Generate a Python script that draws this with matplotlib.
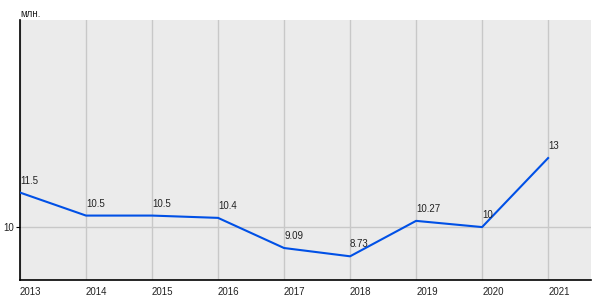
import matplotlib
matplotlib.use("Agg")
import matplotlib.pyplot as plt

plt.rcParams["font.family"] = ["Liberation Sans", "DejaVu Sans"]

years = [2013, 2014, 2015, 2016, 2017, 2018, 2019, 2020, 2021]
values = [11.5, 10.5, 10.5, 10.4, 9.09, 8.73, 10.27, 10.0, 13.0]
labels = ["11.5", "10.5", "10.5", "10.4", "9.09", "8.73", "10.27", "10", "13"]
yticks = [10]
unit = "млн."

fig = plt.figure(figsize=(6, 3), dpi=100)
ax = fig.add_axes([20/600, 20/300, 571/600, 260/300])
ax.set_facecolor("#EBEBEB")
ax.plot(years, values, color="#0050E6", lw=1.5, zorder=3)
for x, y, t in zip(years, values, labels):
    ax.annotate(t, (x, y), xytext=(0, 5), textcoords="offset points",
                fontsize=7, color="#222222", ha="left", va="bottom", zorder=4)
ax.set_xlim(2013, 2021.65)
ax.set_ylim(7.7, 19.0)
ax.set_xticks(years)
ax.set_xticklabels([str(y) for y in years], fontsize=7, color="#222222", ha="left")
ax.set_yticks(yticks)
ax.set_yticklabels([str(v) for v in yticks], fontsize=7, color="#222222")
ax.grid(True, color="#C8C8C8", lw=1)
ax.set_axisbelow(True)
for s in ["top", "right"]:
    ax.spines[s].set_visible(False)
for s in ["left", "bottom"]:
    ax.spines[s].set_color("black")
    ax.spines[s].set_linewidth(1.2)
ax.tick_params(axis="x", length=0, pad=5)
ax.tick_params(axis="y", length=3, pad=1, color="black")
fig.text(20/600, 1 - 14/300, unit, fontsize=7, color="#222222", ha="left", va="center")
fig.savefig("out.png", dpi=100)
